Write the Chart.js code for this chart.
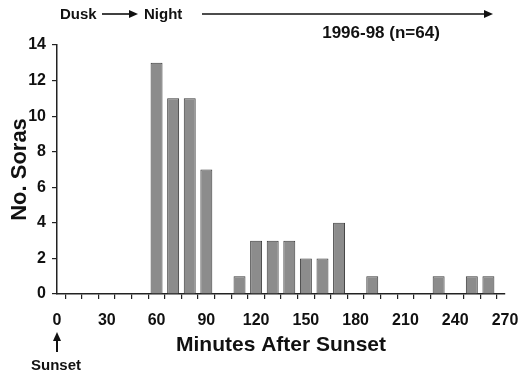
<!DOCTYPE html>
<html>
<head>
<meta charset="utf-8">
<script src="https://cdn.jsdelivr.net/npm/chart.js@4.4.1/dist/chart.umd.min.js"></script>
<style>
html,body{margin:0;padding:0;background:#fff;}
#wrap{width:529px;height:374px;position:relative;}
</style>
</head>
<body>
<div id="wrap"><canvas id="c" width="529" height="374"></canvas></div>
<script>
const minutes = [60, 70, 80, 90, 110, 120, 130, 140, 150, 160, 170, 190, 230, 250, 260];
const soras   = [13, 11, 11, 7, 1, 3, 3, 3, 2, 2, 4, 1, 1, 1, 1];
const xTickLabels = [0, 30, 60, 90, 120, 150, 180, 210, 240, 270];
const yTickLabels = [0, 2, 4, 6, 8, 10, 12, 14];
const FONT = "'Liberation Sans', Arial, sans-serif";

const points = minutes.map((m, i) => ({x: m, y: soras[i]}));

const annot = {
  id: 'annot',
  afterDraw(chart) {
    const ctx = chart.ctx;
    const xs = chart.scales.x;
    ctx.save();
    ctx.fillStyle = '#111';
    ctx.strokeStyle = '#111';
    ctx.textBaseline = 'middle';
    ctx.font = 'bold 15px ' + FONT;
    ctx.textAlign = 'left';
    ctx.fillText('Dusk', 60, 15);
    ctx.fillText('Night', 144, 15);
    function hArrow(x1, x2, y) {
      ctx.lineWidth = 1.6;
      ctx.beginPath(); ctx.moveTo(x1, y); ctx.lineTo(x2 - 5, y); ctx.stroke();
      ctx.beginPath(); ctx.moveTo(x2, y); ctx.lineTo(x2 - 9, y - 4); ctx.lineTo(x2 - 9, y + 4); ctx.closePath(); ctx.fill();
    }
    hArrow(102, 138, 14);
    hArrow(202, 493, 14);
    ctx.font = 'bold 17px ' + FONT;
    ctx.textAlign = 'center';
    ctx.fillText('1996-98 (n=64)', 381, 33);
    // Sunset arrow
    const x0 = xs.getPixelForValue(0);
    ctx.lineWidth = 2;
    ctx.beginPath(); ctx.moveTo(x0, 352); ctx.lineTo(x0, 338); ctx.stroke();
    ctx.beginPath(); ctx.moveTo(x0, 332); ctx.lineTo(x0 - 4, 341); ctx.lineTo(x0 + 4, 341); ctx.closePath(); ctx.fill();
    ctx.font = 'bold 15px ' + FONT;
    ctx.fillText('Sunset', x0 - 1, 366);
    ctx.restore();
  }
};

new Chart(document.getElementById('c'), {
  type: 'bar',
  data: {
    datasets: [{
      data: points,
      backgroundColor: '#8c8c8c',
      borderColor: '#3a3a3a',
      borderWidth: 1,
      barPercentage: 0.72,
      categoryPercentage: 1.0
    }]
  },
  options: {
    responsive: false,
    animation: false,
    layout: {padding: {top: 45, right: 24, left: 9, bottom: 18}},
    plugins: {legend: {display: false}, tooltip: {enabled: false}},
    scales: {
      x: {
        type: 'linear',
        min: 0, max: 270,
        offset: false,
        border: {color: '#222', width: 1.5},
        grid: {drawOnChartArea: false, drawTicks: true, tickLength: 5, color: '#222', lineWidth: 1.2},
        ticks: {
          stepSize: 10,
          autoSkip: false,
          maxRotation: 0,
          padding: 14,
          color: '#111',
          font: {family: FONT, size: 16, weight: 'bold', lineHeight: 1.0},
          callback: (v) => xTickLabels.includes(v) ? String(v) : ''
        },
        title: {display: true, text: 'Minutes After Sunset', color: '#111', font: {family: FONT, size: 21, weight: 'bold', lineHeight: 1.0}, padding: {top: 0, bottom: 0}},
        afterFit: (s) => { s.height = 62; s.paddingRight = 10; s.paddingLeft = 0; }
      },
      y: {
        min: 0, max: 14,
        border: {color: '#222', width: 1.5},
        grid: {drawOnChartArea: false, drawTicks: true, tickLength: 5, color: '#222', lineWidth: 1.2},
        ticks: {
          stepSize: 2,
          padding: 6,
          color: '#111',
          font: {family: FONT, size: 16, weight: 'bold'},
          callback: (v) => yTickLabels.includes(v) ? String(v) : ''
        },
        title: {display: true, text: 'No. Soras', color: '#111', font: {family: FONT, size: 22, weight: 'bold', lineHeight: 1.0}, padding: {top: 0, bottom: 2}},
        afterFit: (s) => { s.width = 48; }
      }
    }
  },
  plugins: [annot]
});
</script>
</body>
</html>
